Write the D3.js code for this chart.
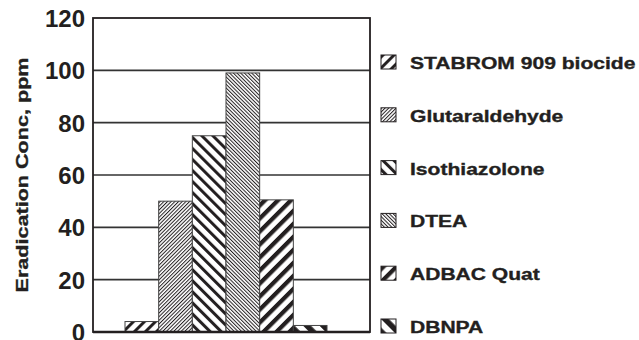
<!DOCTYPE html>
<html>
<head>
<meta charset="utf-8">
<script src="https://cdn.jsdelivr.net/npm/d3@7"></script>
<style>
  html, body { margin: 0; padding: 0; background: #fff; }
  svg { display: block; }
  text { font-family: "Liberation Sans", Arial, Helvetica, sans-serif; font-weight: bold; fill: #231f20; }
</style>
</head>
<body>
<svg id="chart" width="639" height="340"></svg>
<script>
const categories = ["STABROM 909 biocide", "Glutaraldehyde", "Isothiazolone", "DTEA", "ADBAC Quat", "DBNPA"];
const values = [4, 50, 75, 99, 50.5, 2.5];
const yTicks = [0, 20, 40, 60, 80, 100, 120];
const yTitle = "Eradication Conc, ppm";

// hatch styles: angle, period (perpendicular), black stripe width
const hatches = [
  { angle: 45,  period: 7.8, width: 3.0 },
  { angle: 45,  period: 2.6, width: 1.0 },
  { angle: -45, period: 7.8, width: 3.0 },
  { angle: -45, period: 2.6, width: 1.0 },
  { angle: 45,  period: 9.2, width: 4.2 },
  { angle: -45, period: 11.5, width: 5.5 }
];

const ink = "#231f20";
const svg = d3.select("#chart");
const m = { left: 93, top: 18, right: 269, bottom: 8 };
const W = 639 - m.left - m.right;   // 277
const H = 340 - m.top - m.bottom;   // 314

const defs = svg.append("defs");
hatches.forEach((h, i) => {
  const p = defs.append("pattern")
    .attr("id", "hatch" + i)
    .attr("patternUnits", "userSpaceOnUse")
    .attr("width", h.period)
    .attr("height", 20)
    .attr("patternTransform", `rotate(${h.angle})`);
  p.append("rect").attr("width", h.period).attr("height", 20).attr("fill", "#fff");
  p.append("rect").attr("x", 0).attr("width", h.width).attr("height", 20).attr("fill", ink);
});

const g = svg.append("g").attr("transform", `translate(${m.left},${m.top})`);

const y = d3.scaleLinear().domain([0, 120]).range([H, 0]);
const x = d3.scaleBand().domain(categories).range([32, 234]).paddingInner(0);

// gridlines
g.selectAll("line.grid").data(yTicks.filter(t => t > 0 && t < 120)).enter()
  .append("line")
  .attr("x1", 0).attr("x2", W)
  .attr("y1", d => y(d)).attr("y2", d => y(d))
  .attr("stroke", "#333").attr("stroke-width", 1.6);

// bars
g.selectAll("rect.bar").data(values).enter()
  .append("rect")
  .attr("x", (d, i) => x(categories[i]))
  .attr("y", d => y(d))
  .attr("width", x.bandwidth())
  .attr("height", d => H - y(d))
  .attr("fill", (d, i) => `url(#hatch${i})`)
  .attr("stroke", "#444").attr("stroke-width", 1);

// frame
g.append("rect").attr("x", 0).attr("y", 0).attr("width", W).attr("height", H)
  .attr("fill", "none").attr("stroke", ink).attr("stroke-width", 1.8);
g.append("line").attr("x1", 0).attr("x2", W).attr("y1", H).attr("y2", H)
  .attr("stroke", ink).attr("stroke-width", 2.6);

// y axis labels
const yAxis = d3.axisLeft(y).tickValues(yTicks).tickSize(0).tickPadding(8);
const ya = g.append("g").call(yAxis);
ya.select(".domain").remove();
ya.selectAll("text")
  .attr("font-size", 24)
  .attr("font-family", "Liberation Sans, Arial, sans-serif")
  .attr("font-weight", "bold")
  .attr("fill", ink)
  .attr("dy", "0.36em");

// y title
svg.append("text")
  .attr("transform", `translate(28,${m.top + H / 2}) rotate(-90) scale(1.27,1)`)
  .attr("text-anchor", "middle")
  .attr("font-size", 17)
  .attr("stroke", ink).attr("stroke-width", 0.35)
  .text(yTitle);

// legend
const leg = svg.append("g").attr("transform", "translate(381,55)");
const rowH = 52.8;
categories.forEach((c, i) => {
  const row = leg.append("g").attr("transform", `translate(0,${i * rowH})`);
  row.append("rect").attr("width", 15).attr("height", 14)
    .attr("fill", `url(#hatch${i})`).attr("stroke", ink).attr("stroke-width", 1);
  row.append("text")
    .attr("transform", "translate(29,14) scale(1.24,1)")
    .attr("font-size", 17)
    .attr("stroke", ink).attr("stroke-width", 0.35)
    .text(c);
});
</script>
</body>
</html>
